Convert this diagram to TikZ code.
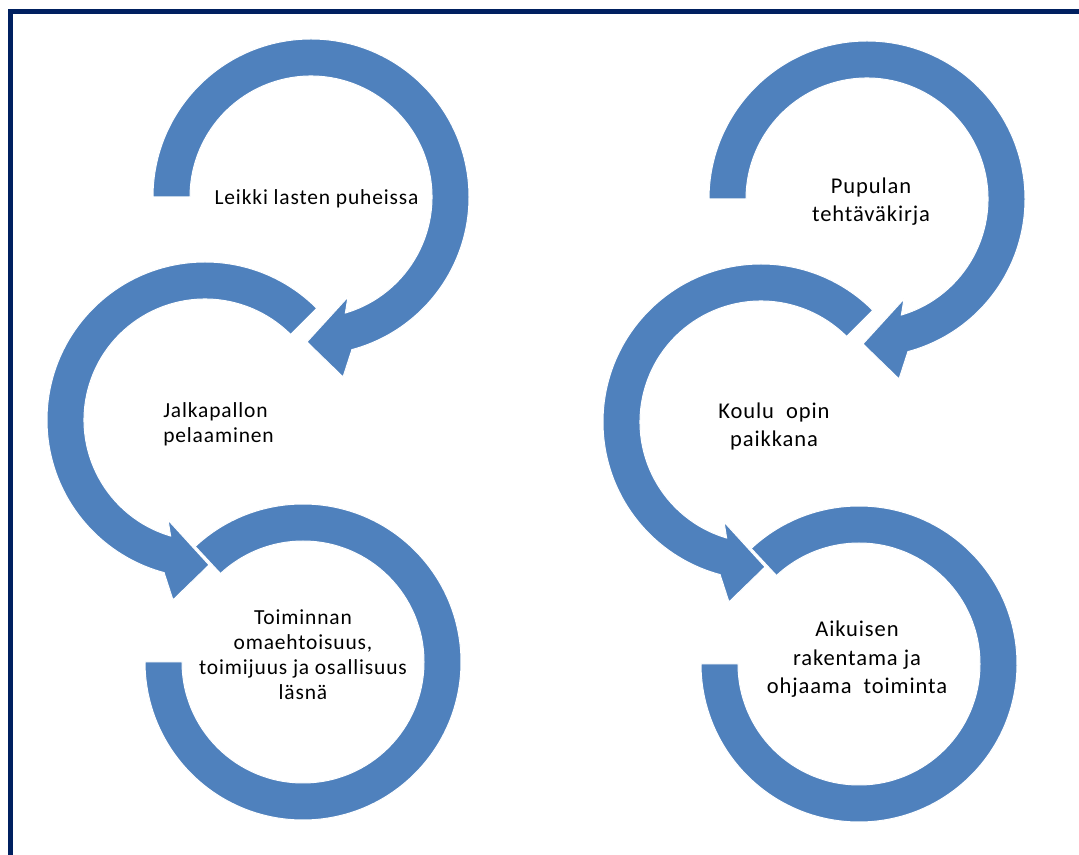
\documentclass[tikz,border=0pt]{standalone}
\usepackage{fontspec}
\setmainfont{Carlito}
\newfontfamily\lblfont[LetterSpace=4]{Carlito}
\definecolor{arrowblue}{HTML}{4F81BD}
\definecolor{framenavy}{HTML}{002060}
\tikzset{
  band/.style={fill=arrowblue, draw=white, line width=0.75pt},
  lbl/.style={font=\lblfont\fontsize{16.1}{18.75}\selectfont, align=center, anchor=base, inner sep=0pt, text=black},
  lblr/.style={font=\lblfont\fontsize{16.9}{21.4}\selectfont, align=center, anchor=base, inner sep=0pt, text=black},
}
\begin{document}
\begin{tikzpicture}[x=0.75pt,y=0.75pt]
\useasboundingbox (0,0) rectangle (1079,854);
\clip (0,0) rectangle (1079,854);
\fill[white] (0,0) rectangle (1079,854);
\draw[framenavy, line width=3.75pt] (10,842) rectangle (1110,-30);

\foreach \dx/\dy/\sfx in {0/0/l, 556/-2/r}{
  \coordinate (c1\sfx) at (311+\dx, 657+\dy);
  \coordinate (c2\sfx) at (205+\dx, 434+\dy);
  \coordinate (c3\sfx) at (303+\dx, 192+\dy);
  % circle 3 (no head)
  \filldraw[band] ([shift={(133:158)}]c3\sfx) arc[start angle=133, end angle=-180, radius=158]
    -- ([shift={(180:121)}]c3\sfx) arc[start angle=-180, end angle=133, radius=121] -- cycle;
  % circle 2 (counterclockwise, head at bottom)
  \filldraw[band] ([shift={(45:158)}]c2\sfx) arc[start angle=45, end angle=255, radius=158]
    -- ([shift={(259.9:182.8)}]c2\sfx) -- ([shift={(271.6:145)}]c2\sfx)
    -- ([shift={(249.7:106.6)}]c2\sfx) -- ([shift={(253.5:121)}]c2\sfx)
    arc[start angle=253.5, end angle=45, radius=121] -- cycle;
  % circle 1 (clockwise, head at bottom)
  \filldraw[band] ([shift={(180:158)}]c1\sfx) arc[start angle=180, end angle=-75, radius=158]
    -- ([shift={(-79.9:182.8)}]c1\sfx) -- ([shift={(-91.6:145)}]c1\sfx)
    -- ([shift={(-69.7:106.6)}]c1\sfx) -- ([shift={(-73.5:121)}]c1\sfx)
    arc[start angle=-73.5, end angle=180, radius=121] -- cycle;
}

% multi-line nodes: base anchor sits on the last line's baseline
\node[lbl] (t1) at (316.5,649) {Leikki lasten puheissa};
\node[lbl, align=left, anchor=base west] (t2) at (163,411) {Jalkapallon\\pelaaminen};
\node[lbl] (t3) at (303,154) {Toiminnan\\omaehtoisuus,\\toimijuus ja osallisuus\\läsnä};
\node[lblr] (t4) at (871,632) {Pupulan\\tehtäväkirja};
\node[lblr] (t5) at (774,407) {Koulu\ \ opin\\paikkana};
\node[lblr] (t6) at (857,160) {Aikuisen\\rakentama ja\\ohjaama\ \ toiminta};
\end{tikzpicture}
\end{document}
